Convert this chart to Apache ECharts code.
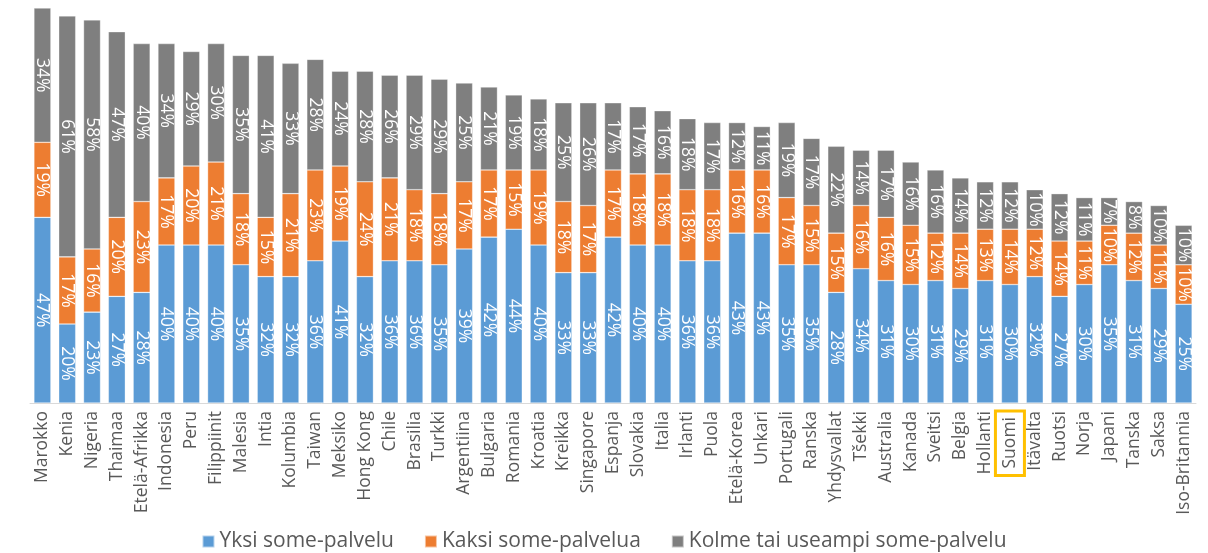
<!DOCTYPE html>
<html>
<head>
<meta charset="utf-8">
<script src="https://cdn.jsdelivr.net/npm/echarts@6/dist/echarts.min.js"></script>
<style>
  html, body { margin: 0; padding: 0; background: #fff; }
  #chart { width: 1208px; height: 553px; }
</style>
</head>
<body>
<div id="chart"></div>
<script>
// Maat ja osuudet (%) some-palveluiden lukumäärän mukaan
const countries = ['Marokko','Kenia','Nigeria','Thaimaa','Etelä-Afrikka','Indonesia','Peru','Filippiinit','Malesia','Intia','Kolumbia','Taiwan','Meksiko','Hong Kong','Chile','Brasilia','Turkki','Argentiina','Bulgaria','Romania','Kroatia','Kreikka','Singapore','Espanja','Slovakia','Italia','Irlanti','Puola','Etelä-Korea','Unkari','Portugali','Ranska','Yhdysvallat','Tšekki','Australia','Kanada','Sveitsi','Belgia','Hollanti','Suomi','Itävalta','Ruotsi','Norja','Japani','Tanska','Saksa','Iso-Britannia'];

const oneService   = [47,20,23,27,28,40,40,40,35,32,32,36,41,32,36,36,35,39,42,44,40,33,33,42,40,40,36,36,43,43,35,35,28,34,31,30,31,29,31,30,32,27,30,35,31,29,25];
const twoServices  = [19,17,16,20,23,17,20,21,18,15,21,23,19,24,21,18,18,17,17,15,19,18,17,17,18,18,18,18,16,16,17,15,15,16,16,15,12,14,13,14,12,14,11,10,12,11,10];
const threeOrMore  = [34,61,58,47,40,34,29,30,35,41,33,28,24,28,26,29,29,25,21,19,18,25,26,17,17,16,18,17,12,11,19,17,22,14,17,16,16,14,12,12,10,12,11,7,8,10,10];

const seriesNames = ['Yksi some-palvelu', 'Kaksi some-palvelua', 'Kolme tai useampi some-palvelu'];
const highlighted = 'Suomi';

const colors = ['#5B9BD5', '#ED7D31', '#7F7F7F'];
const font = 'Open Sans';

function makeSeries(name, data, color) {
  return {
    name: name,
    type: 'bar',
    stack: 'total',
    data: data,
    barWidth: 17,
    itemStyle: { color: color, borderColor: 'rgba(255,255,255,0.55)', borderWidth: 0.6 },
    label: {
      show: true,
      position: 'inside',
      rotate: -90,
      color: '#ffffff',
      fontFamily: font,
      fontSize: 17.5,
      formatter: p => p.value + '%'
    }
  };
}

const chart = echarts.init(document.getElementById('chart'), null, { renderer: 'canvas' });
chart.setOption({
  animation: false,
  color: colors,
  grid: { left: 30, right: 12, top: 8, bottom: 150, containLabel: false },
  legend: {
    top: 526,
    left: 'center',
    itemWidth: 12,
    itemHeight: 12,
    itemGap: 30,
    icon: 'rect',
    textStyle: { color: '#595959', fontFamily: font, fontSize: 21 },
    data: seriesNames
  },
  xAxis: {
    type: 'category',
    data: countries,
    axisTick: { show: false },
    axisLine: { lineStyle: { color: '#D9D9D9', width: 1 } },
    axisLabel: {
      interval: 0,
      rotate: 90,
      margin: 8,
      color: '#595959',
      fontFamily: font,
      fontSize: 17.5,
      formatter: v => v === highlighted ? '{hl|' + v + '}' : v,
      rich: {
        hl: {
          color: '#595959',
          fontFamily: font,
          fontSize: 17.5,
          borderColor: '#FFC000',
          borderWidth: 3,
          padding: [6, 6, 5, 7]
        }
      }
    }
  },
  yAxis: {
    type: 'value',
    min: 0,
    max: 100,
    show: false,
    splitLine: { show: false }
  },
  series: [
    makeSeries(seriesNames[0], oneService, colors[0]),
    makeSeries(seriesNames[1], twoServices, colors[1]),
    makeSeries(seriesNames[2], threeOrMore, colors[2])
  ]
});
</script>
</body>
</html>
